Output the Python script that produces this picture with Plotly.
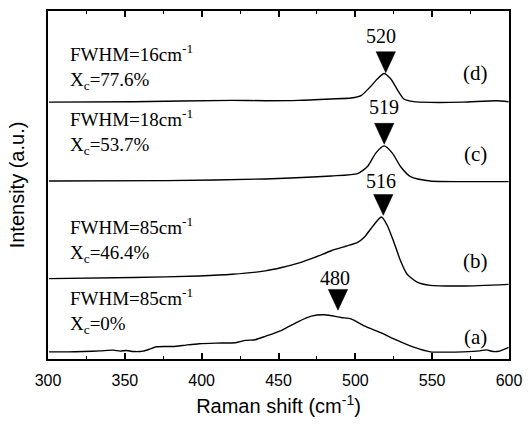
import plotly.graph_objects as go

# ---------------- data ----------------
# (a) Xc = 0%
xa = [300.7, 312.5, 323.3, 334.0, 342.6, 346.9, 351.2, 355.5, 361.9, 366.2, 370.5, 381.2, 389.8,
      398.4, 409.2, 422.0, 428.5, 434.9, 441.4, 452.1, 462.9, 471.4, 480.0, 490.8, 497.2, 505.8,
      516.5, 527.3, 538.0, 548.8, 559.5, 570.2, 581.0, 585.3, 589.6, 593.9, 599.7]
ya = [7.2, 7.2, 7.5, 8.2, 8.9, 7.9, 8.6, 7.5, 7.9, 9.9, 12.3, 12.6, 14.0,
      15.3, 16.0, 16.4, 18.7, 19.4, 22.8, 28.9, 37.7, 43.1, 44.5, 41.7, 40.4, 33.3,
      26.5, 18.7, 11.9, 7.2, 6.9, 7.2, 8.2, 9.2, 7.5, 7.9, 11.6]
# (b) Xc = 46.4%
xb = [300.7, 355.5, 398.4, 419.9, 441.4, 452.1, 462.9, 473.6, 484.3, 495.1, 501.5, 505.8,
      510.1, 514.4, 517.0, 520.8, 525.1, 529.4, 533.7, 540.2, 548.8, 570.2, 599.7]
yb = [80.8, 81.9, 83.5, 85.2, 88.6, 92.0, 96.4, 102.2, 108.9, 114.0, 117.4, 122.5,
      131.0, 139.4, 142.8, 134.3, 117.4, 98.8, 85.2, 77.4, 74.1, 73.4, 75.1]
# (c) Xc = 53.7%
xc = [300.7, 377.0, 441.4, 484.3, 501.5, 507.9, 513.3, 518.7, 524.1, 529.4, 535.9, 548.8, 570.2, 599.7]
yc = [179.0, 179.4, 181.1, 184.1, 186.5, 193.6, 207.1, 214.3, 207.1, 193.6, 183.4, 179.0, 178.4, 178.4]
# (d) Xc = 77.6%
xd = [300.7, 355.5, 419.9, 441.4, 462.9, 484.3, 497.2, 503.7, 510.1, 514.4, 518.7, 523.0,
      527.3, 531.6, 538.0, 548.8, 570.2, 591.7, 599.7]
yd = [258.4, 258.8, 260.1, 259.8, 260.1, 261.5, 262.5, 264.9, 274.3, 281.8, 287.2, 281.8,
      271.0, 261.5, 258.8, 258.1, 258.4, 259.8, 258.8]

series_x = [xa, xb, xc, xd]
series_y = [ya, yb, yc, yd]

# peak markers (apex position) and labels
peak_x = [488.7, 518.2, 518.8, 519.8]
peak_y = [49.0, 144.5, 216.0, 288.0]
peak_labels = ["480", "516", "519", "520"]
peak_label_x = [486.5, 516.6, 518.8, 516.9]
peak_label_y = [81.0, 179.0, 253.0, 325.0]

info_text = ["FWHM=85cm<sup>-1</sup><br>X<sub>c</sub>=0%",
             "FWHM=85cm<sup>-1</sup><br>X<sub>c</sub>=46.4%",
             "FWHM=18cm<sup>-1</sup><br>X<sub>c</sub>=53.7%",
             "FWHM=16cm<sup>-1</sup><br>X<sub>c</sub>=77.6%"]
info_y = [48.0, 120.0, 228.0, 294.0]
tag_text = ["(a)", "(b)", "(c)", "(d)"]
tag_y = [22.0, 99.0, 206.0, 288.0]

x_ticks = [300, 350, 400, 450, 500, 550, 600]

# ---------------- figure ----------------
SERIF = "Liberation Serif"
SANS = "Liberation Sans"

fig = go.Figure()
for sx, sy in zip(series_x, series_y):
    fig.add_trace(go.Scatter(x=sx, y=sy, mode="lines",
                             line=dict(color="black", width=1.4, shape="spline", smoothing=0.6),
                             hoverinfo="skip", showlegend=False))

# triangle markers drawn as filled polygons from the peak positions
tri_half_w = 6.3   # data units (x)
tri_h = 21.0       # data units (y)
for px, py in zip(peak_x, peak_y):
    fig.add_trace(go.Scatter(x=[px - tri_half_w, px + tri_half_w, px, px - tri_half_w],
                             y=[py + tri_h, py + tri_h, py, py + tri_h],
                             mode="lines", fill="toself", fillcolor="black",
                             line=dict(color="black", width=0.5),
                             hoverinfo="skip", showlegend=False))

ann = []
for lx, ly, t in zip(peak_label_x, peak_label_y, peak_labels):
    ann.append(dict(x=lx, y=ly, text=t, showarrow=False, xanchor="center", yanchor="middle",
                    font=dict(family=SERIF, size=20, color="black")))
for i in range(4):
    ann.append(dict(x=313.0, y=info_y[i], text=info_text[i], showarrow=False, xanchor="left",
                    yanchor="middle", align="left",
                    font=dict(family=SERIF, size=19, color="black")))
    ann.append(dict(x=578.4, y=tag_y[i], text=tag_text[i], showarrow=False, xanchor="center",
                    yanchor="middle", font=dict(family=SERIF, size=21, color="black")))

fig.update_layout(
    width=531, height=428,
    margin=dict(l=48, r=10, t=9, b=69),
    paper_bgcolor="white", plot_bgcolor="white",
    annotations=ann,
    showlegend=False,
)
fig.update_xaxes(
    range=[300, 600], tickvals=x_ticks, ticks="inside", ticklen=6, tickwidth=1.5,
    tickcolor="black", showline=True, linecolor="black", linewidth=1.8, mirror="ticks",
    showgrid=False, zeroline=False,
    minor=dict(dtick=25, tick0=300, ticks="inside", ticklen=3, tickwidth=1.2, tickcolor="black"),
    tickfont=dict(family=SANS, size=16, color="black"),
    ticklabelstandoff=6, ticklabeloverflow="allow",
    title=dict(text="Raman shift (cm<sup>-1</sup>)", font=dict(family=SANS, size=20, color="black"),
               standoff=11),
)
fig.update_yaxes(
    range=[0, 350], showticklabels=False, ticks="", showline=True, linecolor="black",
    linewidth=1.8, mirror=True, showgrid=False, zeroline=False,
    title=dict(text="Intensity (a.u.)", font=dict(family=SANS, size=20, color="black"), standoff=16),
)

fig.write_html("out.html", config={"displayModeBar": False},
               post_script="document.body.style.margin='0';")
